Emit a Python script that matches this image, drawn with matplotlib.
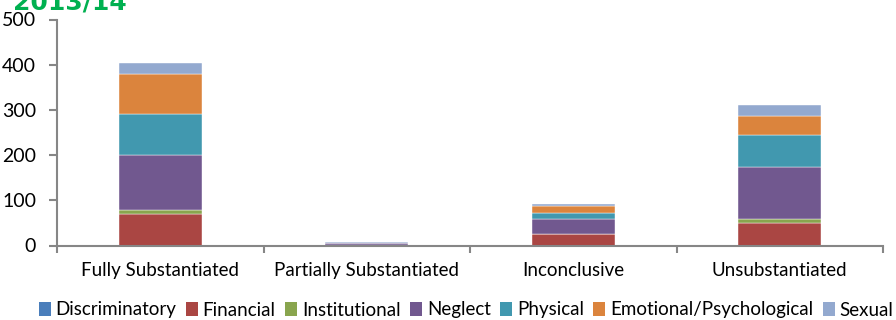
import matplotlib
matplotlib.use("Agg")
import matplotlib.pyplot as plt
from matplotlib.patches import Patch

categories = ["Fully Substantiated", "Partially Substantiated", "Inconclusive", "Unsubstantiated"]
series_names = ["Discriminatory", "Financial", "Institutional", "Neglect", "Physical",
                "Emotional/Psychological", "Sexual"]
discriminatory = [0, 0, 0, 0]
financial = [70, 1, 25, 50]
institutional = [9, 0, 1, 9]
neglect = [121, 5, 33, 114]
physical = [92, 0, 14, 72]
emotional = [88, 0, 14, 41]
sexual = [24, 2, 5, 24]
yticks = [0, 100, 200, 300, 400, 500]
title = "2013/14"

colors = ["#4A7EBB", "#AA4643", "#89A54E", "#71588F", "#4198AF", "#DB843D", "#93A9CF"]
series = [discriminatory, financial, institutional, neglect, physical, emotional, sexual]

W, H = 896, 320
fig = plt.figure(figsize=(W / 100, H / 100), dpi=100)
ax = fig.add_axes([57 / W, 1 - 245.5 / H, (883 - 57) / W, (245.5 - 19.5) / H])

font = "Lato"
x = list(range(len(categories)))
bottom = [0] * len(categories)
for vals, c in zip(series, colors):
    ax.bar(x, vals, width=0.4, bottom=bottom, color=c, edgecolor="white", linewidth=0.3, zorder=2)
    bottom = [b + v for b, v in zip(bottom, vals)]

ax.set_xlim(-0.5, len(categories) - 0.5)
ax.set_ylim(0, 500)
ax.set_yticks(yticks)
ax.set_yticklabels([str(t) for t in yticks], fontfamily=font, fontsize=14, color="black")
ax.set_xticks(x)
ax.set_xticklabels(categories, fontfamily=font, fontsize=13.5, color="black")
ax.set_xticks([i + 0.5 for i in range(-1, len(categories))], minor=True)
ax.tick_params(axis="x", which="major", length=0, pad=12)
ax.tick_params(axis="x", which="minor", length=5, color="#868686", width=1.5)
ax.tick_params(axis="y", length=6, color="#868686", width=1.5, pad=9)
for s in ["top", "right"]:
    ax.spines[s].set_visible(False)
for s in ["left", "bottom"]:
    ax.spines[s].set_color("#868686")
    ax.spines[s].set_linewidth(1.5)

fig.text(13 / W, 1 - 10 / H, title, fontsize=18, fontweight="bold", color="#00B050",
         va="baseline", ha="left")

handles = [Patch(facecolor=c, edgecolor="none") for c in colors]
fig.legend(handles, series_names, loc="center", bbox_to_anchor=(466 / W, 1 - 310 / H),
           ncol=7, frameon=False, prop={"family": font, "size": 13.5},
           handlelength=0.65, handleheight=0.75, handletextpad=0.25, columnspacing=0.5,
           borderaxespad=0, borderpad=0)

fig.savefig("out.png", dpi=100)
